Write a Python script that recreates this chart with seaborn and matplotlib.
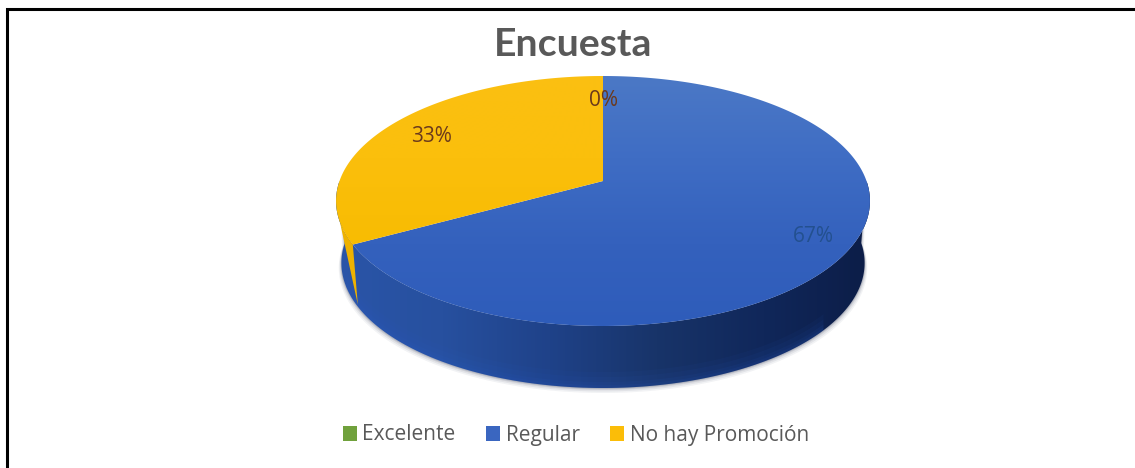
import numpy as np
import matplotlib
matplotlib.use("Agg")
import matplotlib.pyplot as plt
from matplotlib.colors import LinearSegmentedColormap
from matplotlib.patches import Patch, Polygon
import seaborn as sns

categories = ["Excelente", "Regular", "No hay Promoción"]
shares = [0, 67, 33]
slice_colors = ["#70a13c", "#3a66c0", "#fbbd08"]

sns.set_theme(style="white")
plt.rcParams["font.family"] = ["Lato", "DejaVu Sans"]

W, H = 1135, 468
fig = plt.figure(figsize=(W / 100, H / 100), dpi=100, facecolor="white")
ax = fig.add_axes([0, 0, 1, 1])
ax.axis("off")

# The pie's own layout gives each slice's sweep; the slices are then redrawn in perspective.
helper = fig.add_axes([0, 0, 0.01, 0.01])
wedges, _ = helper.pie(shares, startangle=90, counterclock=False,
                       colors=sns.color_palette(slice_colors))
sweeps = [tuple(sorted((w.theta1, w.theta2))) for w in wedges]
helper.remove()

CX, CY, KX, KY, TILT = 603.0, 181.0, 263.5, 121.8, 0.16
DEPTH = 62.0
SHRINK = 0.98


def project(deg, drop=0.0, shrink=1.0):
    t = np.radians(deg)
    u, v = np.cos(t), np.sin(t)
    d = 1 + TILT * v
    return CX + shrink * KX * u / d, CY - KY * v / d + drop


def band(th, drop_a, drop_b, shrink_a=1.0, shrink_b=SHRINK):
    x1, y1 = project(th, drop=drop_a, shrink=shrink_a)
    x2, y2 = project(th, drop=drop_b, shrink=shrink_b)
    return np.c_[np.r_[x1, x2[::-1]], np.r_[y1, y2[::-1]]]


def gradient_fill(poly_xy, colors, extent, horizontal, zorder, name):
    poly = Polygon(poly_xy, closed=True, fc="none", ec="none")
    ax.add_patch(poly)
    ramp = np.linspace(0, 1, 256)
    data = ramp[None, :] if horizontal else ramp[:, None]
    cmap = LinearSegmentedColormap.from_list(name, colors)
    im = ax.imshow(data, cmap=cmap, aspect="auto", extent=extent, zorder=zorder,
                   interpolation="bilinear")
    im.set_clip_path(poly)


rim = np.linspace(180, 360, 300)

# Soft contact shadow under the wall
for k, alpha in zip((5, 3.5, 2, 1), (0.05, 0.07, 0.1, 0.14)):
    ax.add_patch(Polygon(band(rim, 0, DEPTH + k, shrink_b=SHRINK + 0.002 * k),
                         fc="#101c3c", ec="none", alpha=alpha, zorder=1))

# Blue side wall, shaded from the left rim towards the lower right
gradient_fill(band(rim, 0, DEPTH),
              ["#2a55a8", "#27509f", "#1f4289", "#183469", "#10275a", "#0c1d47"],
              (335, 872, 400, 180), True, 2, "wall")

# Reflected light along the lower edge of the wall
for k, alpha in zip((16, 11, 6, 3), (0.05, 0.06, 0.07, 0.08)):
    ax.add_patch(Polygon(band(np.linspace(200, 320, 200), DEPTH - k, DEPTH, shrink_a=SHRINK),
                         fc="#2f62d0", ec="none", alpha=alpha, zorder=2.2))

# Yellow sliver of wall where the smaller slice meets the rim
edge = sweeps[2][1] if sweeps[2][1] < 270 else sweeps[2][0]
sliver_top = project(np.linspace(edge - 10, edge, 12))
sliver_low = project(edge, drop=DEPTH - 2, shrink=SHRINK)
ax.add_patch(Polygon(np.c_[np.r_[sliver_top[0], sliver_low[0]], np.r_[sliver_top[1], sliver_low[1]]],
                     fc="#eeb200", ec="none", zorder=2.5))

# Top face with a soft vertical gradient per slice
gradients = {
    1: ["#4c79c6", "#3f6dc4", "#3461bd", "#2e5cba"],
    2: ["#fbc012", "#fbbf0c", "#f8bc02", "#f2b600"],
}
for i, (lo, hi) in enumerate(sweeps):
    if shares[i] == 0:
        continue
    th = np.linspace(lo, hi, 300)
    x, y = project(th)
    gradient_fill(np.c_[np.r_[CX, x], np.r_[CY, y]], gradients[i],
                  (330, 875, 330, 72), False, 3, f"face{i}")

ax.set_xlim(0, W)
ax.set_ylim(H, 0)

# Percentage labels follow the values
label_pos = [(603, 101), (813, 236), (432, 137)]
label_colors = ["#6b3a1c", "#23508f", "#6b3a1c"]
total = sum(shares)
for val, (lx, ly), col in zip(shares, label_pos, label_colors):
    ax.text(lx, ly, f"{round(100 * val / total)}%", ha="center", va="center",
            fontsize=15, color=col, zorder=5, fontfamily=["Open Sans", "DejaVu Sans"])

ax.text(573, 44, "Encuesta", ha="center", va="center", fontsize=28.3, fontweight="bold",
        color="#595959", zorder=5)

handles = [Patch(fc=c, ec="none", label=n) for c, n in zip(slice_colors, categories)]
fig.legend(handles=handles, loc="center", bbox_to_anchor=(576 / W, 1 - 435 / H), ncol=3,
           frameon=False, labelcolor="#595959", handlelength=0.68,
           handleheight=0.72, handletextpad=0.25, columnspacing=1.47,
           prop={"family": ["Open Sans", "DejaVu Sans"], "size": 15})

# Frame runs along the top and left only
ax.plot([7, 7, W], [H, 9, 9], color="black", lw=2.2, solid_joinstyle="miter", zorder=6)

fig.savefig("out.png", dpi=100, facecolor="white")
